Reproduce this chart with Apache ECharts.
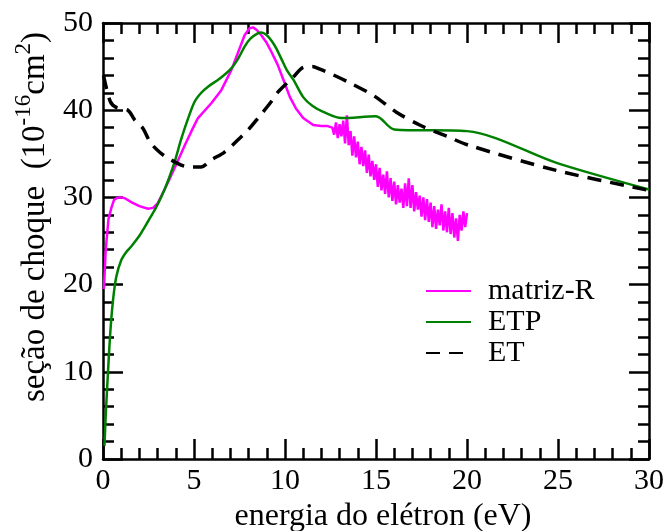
<!DOCTYPE html>
<html>
<head>
<meta charset="utf-8">
<script src="https://cdn.jsdelivr.net/npm/echarts@6/dist/echarts.min.js"></script>
<style>
html,body{margin:0;padding:0;background:#fff;}
#chart{width:667px;height:531px;}
</style>
</head>
<body>
<div id="chart"></div>
<script>
// matriz-R (smooth part followed by noisy part)
var matrizX = [0.05,0.15,0.3,0.46,0.6,0.82,1.0,1.2,1.6,2.0,2.47,2.75,3.0,3.4,3.7,4.03,4.5,5.0,5.22,5.95,6.5,7.05,7.4,7.78,8.05,8.24,8.45,8.7,9.0,9.25,9.6,10.0,10.27,10.6,11.0,11.55,12.0,12.3,12.6,
  12.7,12.8,12.9,13.0,13.1,13.2,13.3,13.4,13.5,13.6,13.7,13.8,13.9,14.0,14.1,14.2,14.3,14.4,14.5,14.6,14.7,14.8,14.9,15.0,
  15.1,15.2,15.3,15.4,15.5,15.6,15.7,15.8,15.9,16.0,16.1,16.2,16.3,16.4,16.5,16.6,16.7,16.8,16.9,17.0,17.1,17.2,17.3,17.4,
  17.5,17.6,17.7,17.8,17.9,18.0,18.1,18.2,18.3,18.4,18.5,18.6,18.7,18.8,18.9,19.0,19.1,19.2,19.3,19.4,19.5,19.6,19.7,19.8,19.9,20.0];
var matrizY = [19.5,24.0,27.5,28.8,29.7,30.0,30.0,29.9,29.4,29.0,28.7,28.8,29.3,31.0,32.3,33.8,36.0,38.2,39.1,40.8,42.3,44.6,46.5,48.6,49.4,49.5,49.2,48.6,47.7,46.7,45.2,43.0,41.5,40.2,39.1,38.3,38.2,38.2,38.0,
  37.2,38.6,36.8,38.4,37.0,38.8,36.2,39.4,36.0,37.6,34.8,37.0,34.6,36.4,33.8,35.8,33.6,35.4,32.8,34.9,32.4,34.2,32.0,33.8,
  31.2,33.4,30.8,32.6,30.4,33.0,30.0,32.2,29.6,31.8,29.2,31.4,29.4,31.0,28.8,31.6,29.0,32.2,28.8,31.4,28.4,30.6,28.6,30.2,
  27.8,30.0,27.4,29.8,27.2,29.4,26.6,29.0,26.4,28.6,26.8,29.2,26.2,28.4,26.0,28.8,25.8,28.2,25.4,27.6,25.0,28.0,26.2,28.4,26.6,28.2];

// ETP
var etpX = [0.08,0.15,0.27,0.4,0.55,0.73,1.0,1.3,1.56,2.0,2.29,2.6,2.93,3.3,3.66,3.94,4.3,4.7,5.04,5.4,5.77,6.4,7.05,7.45,7.78,8.1,8.5,8.7,9.0,9.25,9.52,9.82,10.1,10.46,11.0,11.5,12.1,13.1,15.0,16.0,20.0,25.0,30.0];
var etpY = [1.5,5.0,9.8,14.5,18.2,20.9,22.8,23.8,24.4,25.6,26.6,27.7,28.9,30.5,32.4,34.1,36.7,39.2,41.0,42.0,42.7,43.6,44.8,46.0,47.3,48.2,48.8,48.9,48.6,48.0,47.1,45.8,44.6,43.5,41.5,40.5,39.8,39.1,39.3,37.8,37.6,33.9,30.9];

// ET
var etX = [0.03,0.4,0.75,1.37,1.74,2.2,2.6,3.1,3.57,4.3,4.67,5.4,5.95,6.68,7.42,8.0,8.52,9.25,9.62,10.46,11.0,11.5,11.92,12.6,13.4,14.85,16.1,17.4,18.9,20.07,24.9,30.0];
var etY = [44.0,41.0,40.3,40.0,38.9,37.9,36.3,35.2,34.5,33.7,33.5,33.5,34.3,35.2,36.6,37.8,39.1,41.0,42.1,43.8,44.9,45.0,44.7,44.1,43.3,41.7,39.8,38.3,37.0,36.0,33.1,30.8];

var seriesNames = ['matriz-R','ETP','ET'];
var xTitle = 'energia do elétron (eV)';

function pairs(xs, ys){ var o=[]; for (var i=0;i<xs.length;i++) o.push([xs[i],ys[i]]); return o; }

var FONT = '"Times New Roman", Tinos, "Nimbus Roman", "DejaVu Serif", serif';
function axisCommon(pos, showLabel, isX){
  return {
    type:'value', position:pos,
    min:0, max: isX?30:50, interval: isX?5:10,
    axisLine:{show:true, onZero:false, lineStyle:{color:'#000', width:2.5}},
    axisTick:{show:true, inside:true, length:20, lineStyle:{color:'#000', width:2.5}},
    minorTick:{show:true, splitNumber:5, length:11, lineStyle:{color:'#000', width:2.5}},
    splitLine:{show:false}, minorSplitLine:{show:false},
    axisLabel:{show:showLabel, color:'#000', fontFamily:FONT, fontSize:30, margin: isX?7:10, showMinLabel:true, showMaxLabel:true}
  };
}

var chart = echarts.init(document.getElementById('chart'), null, {renderer:'canvas'});
var xb = axisCommon('bottom', true, true);
xb.name = xTitle; xb.nameLocation='middle'; xb.nameGap=36;
xb.nameTextStyle = {color:'#000', fontFamily:FONT, fontSize:32, padding:[0,0,0,14]};
var xt = axisCommon('top', false, true);
var yl = axisCommon('left', true, false);
yl.name = '{a|seção de choque  (10}{s|-16}{a|cm}{s|2}{a|)}';
yl.nameLocation='middle'; yl.nameGap=45; yl.nameRotate=90;
yl.nameTextStyle = {color:'#000', fontFamily:FONT, fontSize:33, padding:[0,0,0,48],
  rich:{a:{fontFamily:FONT, fontSize:33, color:'#000', lineHeight:40, verticalAlign:'bottom'},
        s:{fontFamily:FONT, fontSize:23, color:'#000', lineHeight:40, verticalAlign:'top'}}};
var yr = axisCommon('right', false, false);

chart.setOption({
  animation:false,
  backgroundColor:'#fff',
  textStyle:{fontFamily:FONT},
  grid:{left:103, right:18, top:23, bottom:72, containLabel:false, outerBoundsMode:'none'},
  xAxis:[xb, xt],
  yAxis:[yl, yr],
  legend:{
    show:true, orient:'vertical', left:420, top:271, itemWidth:45, itemHeight:14, itemGap:1,
    itemStyle:{opacity:0},
    textStyle:{color:'#000', fontFamily:FONT, fontSize:30, lineHeight:30, padding:[0,0,0,12]},
    data: seriesNames
  },
  series:[
    {name:seriesNames[0], type:'line', xAxisIndex:0, yAxisIndex:0, data:pairs(matrizX, matrizY), symbol:'none', smooth:false,
     lineStyle:{color:'#ff00ff', width:2.5}, itemStyle:{color:'#ff00ff'}},
    {name:seriesNames[1], type:'line', xAxisIndex:0, yAxisIndex:0, data:pairs(etpX, etpY), symbol:'none', smooth:0.3,
     lineStyle:{color:'#008000', width:2.5}, itemStyle:{color:'#008000'}},
    {name:seriesNames[2], type:'line', xAxisIndex:0, yAxisIndex:0, data:pairs(etX, etY), symbol:'none', smooth:0.3,
     lineStyle:{color:'#000', width:3.5, type:[14,9]}, itemStyle:{color:'#000'}}
  ]
});
</script>
</body>
</html>
